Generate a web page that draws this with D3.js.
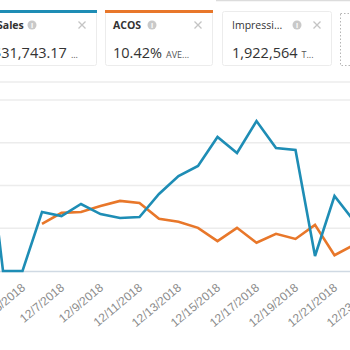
<!DOCTYPE html>
<html>
<head>
<meta charset="utf-8">
<script src="https://cdn.jsdelivr.net/npm/d3@7"></script>
<style>
  html, body { margin: 0; padding: 0; background: #fff; }
  svg { display: block; font-family: "Open Sans", "Noto Sans", sans-serif; }
</style>
</head>
<body>
<svg id="chart" width="350" height="350"></svg>
<script>
// Daily campaign metrics, Dec 3 – Dec 22, 2018
const dates = ["2018-12-03","2018-12-04","2018-12-05","2018-12-06","2018-12-07","2018-12-08","2018-12-09",
  "2018-12-10","2018-12-11","2018-12-12","2018-12-13","2018-12-14","2018-12-15","2018-12-16",
  "2018-12-17","2018-12-18","2018-12-19","2018-12-20","2018-12-21","2018-12-22"];
const sales = [3100, 0, 0, 1104, 1029, 1254, 1066, 992, 1010, 1441, 1777, 1965, 2507, 2208,
  2807, 2301, 2264, 281, 1403, 936];
const acos = [null, null, null, 11.0, 13.6, 13.8, 15.2, 16.4, 15.9, 12.2, 11.5, 10.1, 7.0, 10.1,
  6.6, 8.7, 7.5, 10.8, 3.7, 6.1];
const salesTicks = [0, 800, 1600, 2400, 3200];
const tickDates = ["2018-12-05","2018-12-07","2018-12-09","2018-12-11","2018-12-13","2018-12-15",
  "2018-12-17","2018-12-19","2018-12-21","2018-12-23"];

// Metric cards
const cardTitles = ["Sales", "ACOS", "Impressi..."];
const cardValues = ["$31,743.17", "10.42%", "1,922,564"];
const cardSuffixes = ["...", "AVE...", "T..."];
const cardAccents = ["#1e8db5", "#e8772a", null];

const parse = d3.timeParse("%Y-%m-%d");
const days = dates.map(parse);

const svg = d3.select("#chart");

// faint edge of the control above the cards
svg.append("line").attr("x1", 216).attr("x2", 350).attr("y1", 0.5).attr("y2", 0.5)
  .attr("stroke", "#dcdcdc").attr("stroke-width", 1.5);

const cardX = [-12, 105, 222];
const cardW = [108, 107, 109];
const titleDx = [9, 8, 10];
const valueDx = [5, 8, 10];
cardTitles.forEach((title, i) => {
  const g = svg.append("g").attr("transform", `translate(${cardX[i]},11)`);
  g.append("rect").attr("x", 0.5).attr("y", 0.5).attr("width", cardW[i]).attr("height", 54)
    .attr("rx", 2).attr("fill", "#fff").attr("stroke", "#ececec");
  if (cardAccents[i]) {
    g.append("rect").attr("x", 0).attr("y", -1).attr("width", cardW[i] + 1).attr("height", 3)
      .attr("fill", cardAccents[i]);
  }
  g.append("text").attr("x", titleDx[i]).attr("y", 18).attr("font-size", 10.5)
    .attr("font-weight", i === 2 ? 400 : 700).attr("fill", "#333").text(title);
  g.append("text").attr("x", valueDx[i]).attr("y", 47).attr("font-size", 14.5).attr("fill", "#333")
    .text(cardValues[i])
    .append("tspan").attr("dx", 4).attr("font-size", 9).attr("fill", "#555").text(cardSuffixes[i]);
});
// info icons and close marks
const iconX = [32, 152, 297];
const closeX = [82, 198, 317];
iconX.forEach(x => {
  svg.append("circle").attr("cx", x).attr("cy", 25).attr("r", 4.5).attr("fill", "#c9c9c9");
  svg.append("text").attr("x", x).attr("y", 28).attr("text-anchor", "middle")
    .attr("font-size", 7).attr("font-weight", 700).attr("fill", "#fff").text("i");
});
closeX.forEach(x => {
  const s = 3.5;
  svg.append("path").attr("d", `M${x - s},${25 - s}L${x + s},${25 + s}M${x + s},${25 - s}L${x - s},${25 + s}`)
    .attr("stroke", "#c4c4c4").attr("stroke-width", 1.3);
});
// empty slot for adding a metric
svg.append("rect").attr("x", 340.5).attr("y", 13.5).attr("width", 40).attr("height", 52)
  .attr("fill", "none").attr("stroke", "#b5b5b5").attr("stroke-dasharray", "1.5,2");

// separator under the cards
svg.append("line").attr("x1", 0).attr("x2", 350).attr("y1", 82).attr("y2", 82)
  .attr("stroke", "#ececec").attr("stroke-width", 1.5);

// Scales
const x = d3.scaleTime().domain([parse("2018-12-04"), parse("2018-12-22")]).range([3, 354]);
const ySales = d3.scaleLinear().domain([0, 3200]).range([271, 100]);
const yAcos = d3.scaleLinear().domain([0, 40]).range([271, 100]);

// Gridlines
svg.append("g").selectAll("line").data(salesTicks.slice(1)).join("line")
  .attr("x1", 0).attr("x2", 350)
  .attr("y1", d => ySales(d)).attr("y2", d => ySales(d))
  .attr("stroke", "#ececec").attr("stroke-width", 1.5);

// X axis
const xAxis = d3.axisBottom(x)
  .tickValues(tickDates.map(parse))
  .tickSize(0)
  .tickFormat(d3.timeFormat("%-m/%-d/%Y"));
const ax = svg.append("g").attr("transform", "translate(0,271)").call(xAxis);
ax.select(".domain").attr("d", "M0,0.5H350").attr("stroke", "#cfd9e3").attr("stroke-width", 1.5);
ax.selectAll("text")
  .attr("font-size", 12).attr("fill", "#8c8c8c")
  .attr("text-anchor", "end")
  .attr("y", 0).attr("dy", 0)
  .attr("transform", "translate(3,18) rotate(-40)");

// Lines
const salesLine = d3.line().x((d, i) => x(days[i])).y(d => ySales(d));
const acosLine = d3.line().defined(d => d != null).x((d, i) => x(days[i])).y(d => yAcos(d));

svg.append("path").datum(acos).attr("d", acosLine)
  .attr("fill", "none").attr("stroke", "#e8772a").attr("stroke-width", 2.6)
  .attr("stroke-linejoin", "miter");
svg.append("path").datum(sales).attr("d", salesLine)
  .attr("fill", "none").attr("stroke", "#1e8db5").attr("stroke-width", 2.6)
  .attr("stroke-linejoin", "miter");
</script>
</body>
</html>
